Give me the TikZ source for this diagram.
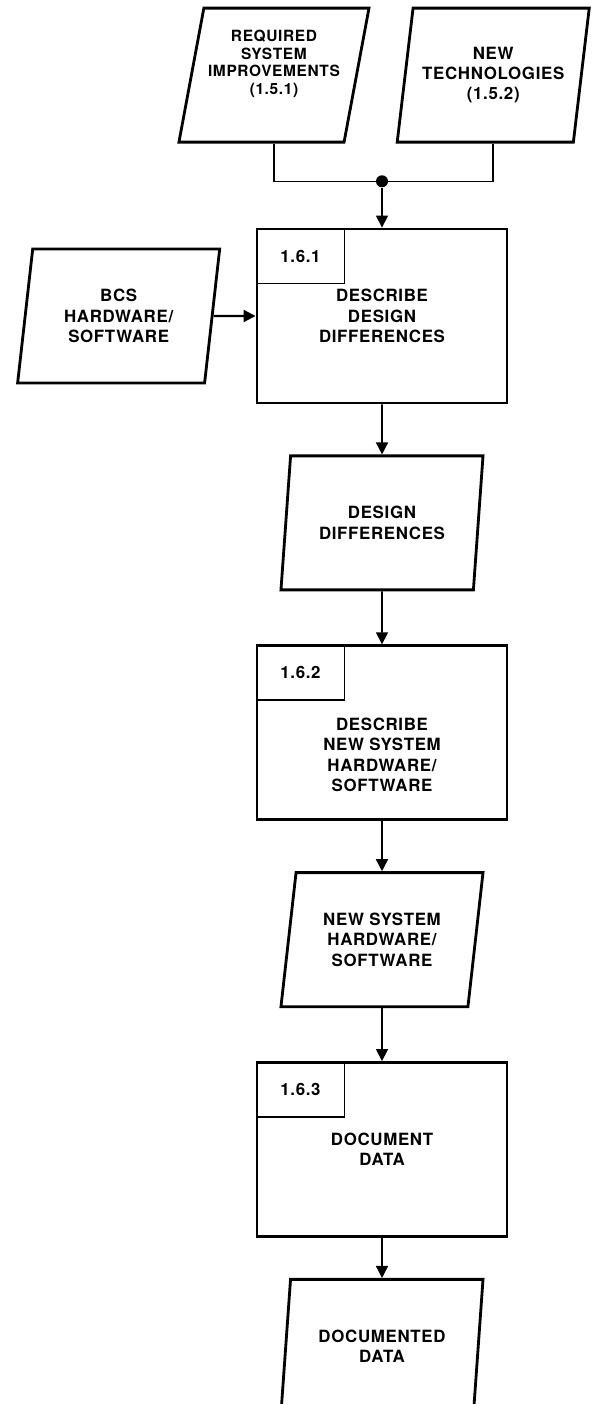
\documentclass[tikz,border=0pt]{standalone}
\usepackage{fontspec}
\setmainfont[LetterSpace=4]{TeX Gyre Heros}
\usetikzlibrary{positioning,shapes.geometric,arrows.meta}

\begin{document}
\begin{tikzpicture}[
		x=0.025cm, y=-0.025cm,
		node distance=1.25cm and 1.05cm,
		every node/.style={font=\fontsize{12}{14.5}\selectfont\bfseries, align=center},
		data/.style={draw, line width=2pt, trapezium, trapezium left angle=75,
			trapezium right angle=105, trapezium stretches body,
			minimum width=5.05cm, minimum height=3.35cm, inner sep=1pt},
		proc/.style={draw, line width=2pt, minimum width=6.25cm, minimum height=4.35cm},
		tag/.style={draw, line width=1.3pt, anchor=north west,
			minimum width=2.2cm, minimum height=1.375cm},
		hub/.style={circle, fill, inner sep=0pt, minimum size=0.3cm},
		link/.style={line width=1.1pt},
		arr/.style={-{Triangle[length=0.3cm,width=0.3cm]}, line width=1.1pt}
	]
	\useasboundingbox (0,0) rectangle (591,1404);
	\node[proc] (d1) at (382,316) {DESCRIBE\\DESIGN\\DIFFERENCES};
	\node[tag]  (t1) at (d1.north west) {1.6.1};
	\node[data, minimum width=4.75cm, font=\fontsize{11}{12.5}\selectfont\bfseries]
		(req) [above=2.1cm of d1, xshift=-2.7cm]
		{REQUIRED\\SYSTEM\\IMPROVEMENTS\\(1.5.1)\\[6pt]};
	\node[data, minimum width=4.8cm] (tech) [above=2.1cm of d1, xshift=2.78cm]
		{NEW\\TECHNOLOGIES\\(1.5.2)};
	\node[hub]  (hub) [above=1cm of d1] {};
	\node[data] (bcs) [left=of d1] {BCS\\HARDWARE/\\SOFTWARE};
	\node[data] (dd)  [below=of d1] {DESIGN\\DIFFERENCES};
	\node[proc] (d2)  [below=1.325cm of dd] {\\[26pt]DESCRIBE\\NEW SYSTEM\\HARDWARE/\\SOFTWARE};
	\node[tag]  (t2) at (d2.north west) {1.6.2};
	\node[data] (ns)  [below=of d2] {NEW SYSTEM\\HARDWARE/\\SOFTWARE};
	\node[proc] (d3)  [below=1.325cm of ns] {DOCUMENT\\DATA};
	\node[tag]  (t3) at (d3.north west) {1.6.3};
	\node[data] (doc) [below=1cm of d3] {DOCUMENTED\\DATA};

	\draw[link] (req.south) |- (hub) -| (tech.south);
	\draw[arr] (hub) -- (d1);
	\draw[arr, line width=1.5pt] (bcs) -- (d1);
	\draw[arr] (d1) -- (dd);
	\draw[arr] (dd) -- (d2);
	\draw[arr] (d2) -- (ns);
	\draw[arr] (ns) -- (d3);
	\draw[arr] (d3) -- (doc);
\end{tikzpicture}
\end{document}
